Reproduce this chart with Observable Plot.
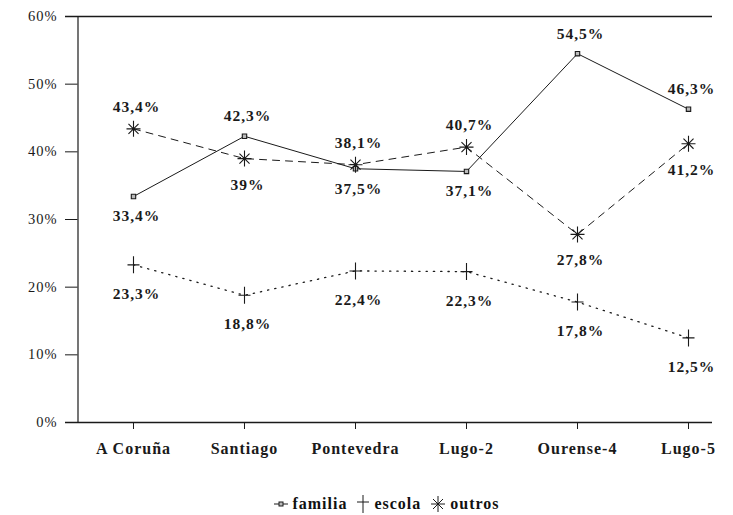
<!DOCTYPE html>
<html><head><meta charset="utf-8">
<script src="https://cdn.jsdelivr.net/npm/d3@7"></script>
<script src="https://cdn.jsdelivr.net/npm/@observablehq/plot@0.6"></script>
<style>
body{margin:0;background:#fff;}
#chart svg text{letter-spacing:1px;font-family:"Liberation Serif","Times New Roman",Times,"DejaVu Serif",serif !important;}
#legend{width:733px;box-sizing:border-box;padding-left:40px;padding-top:14px;display:flex;justify-content:center;align-items:center;font-family:"Liberation Serif","Times New Roman",Times,"DejaVu Serif",serif;font-weight:bold;font-size:16px;letter-spacing:1px;color:#111;line-height:18px;}
#legend .item{display:flex;align-items:center;margin:0 4px;}
#legend svg{margin-right:3px;}
</style></head>
<body><div id="chart"></div><div id="legend"></div>
<script>
const categories = ["A Coruña","Santiago","Pontevedra","Lugo-2","Ourense-4","Lugo-5"];
const seriesNames = ["familia","escola","outros"];
const familia = [33.4,42.3,37.5,37.1,54.5,46.3];
const escola  = [23.3,18.8,22.4,22.3,17.8,12.5];
const outros  = [43.4,39,38.1,40.7,27.8,41.2];
const familiaLabelSide = ["below","above","below","below","above","above"];
const escolaLabelSide  = ["below","below","below","below","below","below"];
const outrosLabelSide  = ["above","below","above","above","below","below"];
const yTicks = [0,10,20,30,40,50,60];

const values = {familia, escola, outros};
const sides = {familia: familiaLabelSide, escola: escolaLabelSide, outros: outrosLabelSide};
const rows = [];
for (const s of seriesNames) values[s].forEach((v,i)=>rows.push({series:s, i, v, side:sides[s][i]}));

const ink = "#1a1a1a";
const serif = "Liberation Serif";
const squareSym = {draw(c){c.moveTo(-2.2,-2.2);c.lineTo(2.2,-2.2);c.lineTo(2.2,2.2);c.lineTo(-2.2,2.2);c.closePath();}};
const plusSym = {draw(c){c.moveTo(-6,0);c.lineTo(6,0);c.moveTo(0,-8.5);c.lineTo(0,8.5);}};
const astSym = {draw(c){const r=7,d=r*0.72;c.moveTo(-r,0);c.lineTo(r,0);c.moveTo(0,-r-1);c.lineTo(0,r+1);c.moveTo(-d,-d);c.lineTo(d,d);c.moveTo(-d,d);c.lineTo(d,-d);}};
const symbols = {familia: squareSym, escola: plusSym, outros: astSym};
const dashes = {familia: null, escola: "1.3,6", outros: "7,6"};

const fmt = v => String(v).replace(".", ",") + "%";
const xMin = -0.6126, xMax = 5.2162, xAxisPos = -0.5;
const labelFont = {fontFamily: serif, fontWeight:"bold", fontSize:15.5, fill:ink};
const offsets = {familia:{above:-20, below:20}, escola:{above:-22, below:29}, outros:{above:-22, below:26}};

const marks = [
  Plot.ruleY([0,60], {stroke: ink, strokeWidth: 1.3}),
  Plot.ruleX([xAxisPos], {y1: 0, y2: 60, stroke: ink, strokeWidth: 1.2}),
  Plot.ruleY(yTicks, {x1: xMin, x2: xAxisPos, stroke: ink}),
  Plot.axisY(yTicks, {anchor:"left", tickSize:0, tickPadding:8, tickFormat: d=>d+"%", fontSize:14.5, fontFamily: serif, fill: ink, label: null}),
  Plot.axisX(d3.range(categories.length), {anchor:"bottom", tickSize:7, tickPadding:13, tickFormat: i=>categories[i], fontSize:16, fontWeight:"bold", fontFamily: serif, stroke: ink, fill: ink, label:null}),
];
for (const s of seriesNames) {
  const data = rows.filter(d=>d.series===s);
  marks.push(Plot.line(data, {x:"i", y:"v", stroke: ink, strokeWidth: s==="escola"?1.3:1, strokeDasharray: dashes[s] || undefined}));
  marks.push(Plot.dot(data, {x:"i", y:"v", symbol: ()=>symbols[s], stroke: ink, strokeWidth: 1.1, fill: s==="familia" ? "#bbb" : "none", r: 4}));
  for (const side of ["above","below"]) {
    marks.push(Plot.text(data.filter(d=>d.side===side), {x:"i", y:"v", text: d=>fmt(d.v), dy: offsets[s][side], dx: 3, ...labelFont}));
  }
}

const chart = Plot.plot({
  width: 733, height: 480,
  marginLeft: 65, marginRight: 21, marginTop: 16, marginBottom: 58,
  x: {type:"linear", domain:[xMin, xMax], axis: null, label: null},
  y: {type:"linear", domain:[0,60], axis: null, label: null},
  style: {background:"#fff", color: ink, fontFamily: serif},
  marks
});
document.getElementById("chart").append(chart);

// legend
const legend = document.getElementById("legend");
const icons = {
  familia: `<svg width="16" height="18"><line x1="1" y1="9" x2="15" y2="9" stroke="${ink}"/><rect x="6" y="7" width="4" height="4" fill="#bbb" stroke="${ink}"/></svg>`,
  escola: `<svg width="16" height="20"><line x1="2" y1="8" x2="14" y2="8" stroke="${ink}"/><line x1="8" y1="1" x2="8" y2="19" stroke="${ink}"/></svg>`,
  outros: `<svg width="18" height="18"><g transform="translate(9,9)" stroke="${ink}"><line x1="-7" y1="0" x2="7" y2="0"/><line x1="0" y1="-8" x2="0" y2="8"/><line x1="-5" y1="-5" x2="5" y2="5"/><line x1="-5" y1="5" x2="5" y2="-5"/></g></svg>`
};
for (const s of seriesNames) {
  const el = document.createElement("span");
  el.className = "item";
  el.innerHTML = icons[s] + `<span>${s}</span>`;
  legend.append(el);
}
</script>
</body></html>
